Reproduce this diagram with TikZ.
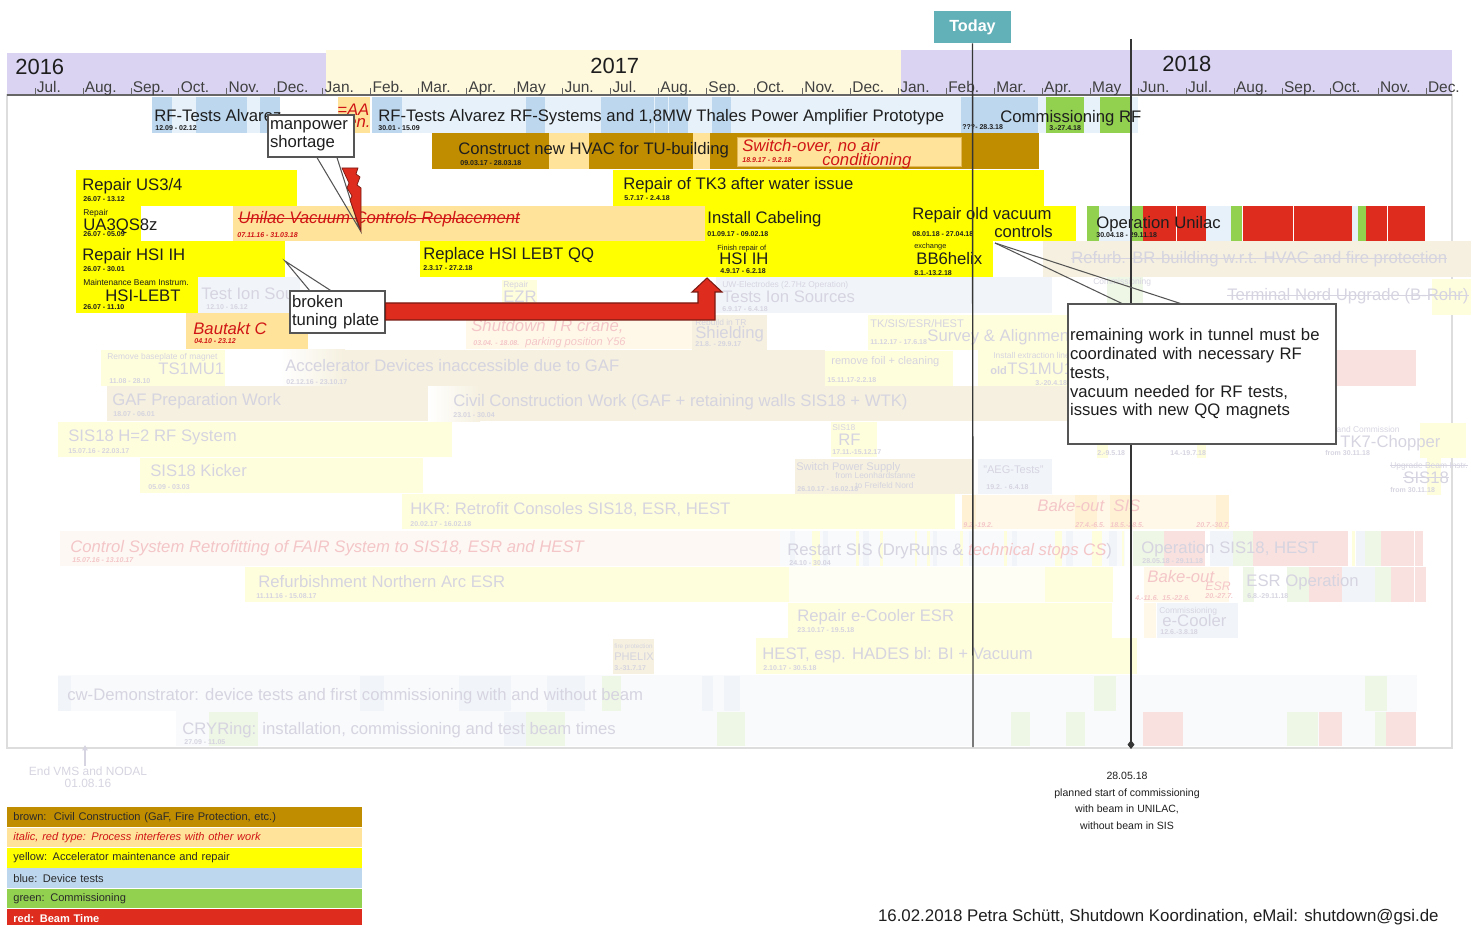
\documentclass[tikz,border=0pt]{standalone}
\usepackage{fontspec}
\setmainfont{Liberation Sans}
\usetikzlibrary{positioning, calc, arrows.meta}
\newsavebox{\strkbox}
\newcommand{\strk}[1]{\sbox{\strkbox}{#1}\rlap{\usebox{\strkbox}}\rule[0.3em]{\wd\strkbox}{0.07em}}
\definecolor{ink}{HTML}{1E1E1E}
\definecolor{lavY}{HTML}{DAD4F2}
\definecolor{creamY}{HTML}{FEF9DD}
\definecolor{brownCC}{HTML}{C18D00}
\definecolor{peachIR}{HTML}{FFE39B}
\definecolor{pchEdge}{HTML}{E2B85A}
\definecolor{yellowAM}{HTML}{FFFF00}
\definecolor{blueDT}{HTML}{BDD7EE}
\definecolor{blueLT}{HTML}{E6F1FA}
\definecolor{greenCO}{HTML}{92D050}
\definecolor{redBT}{HTML}{DE2C1E}
\definecolor{redTxt}{HTML}{D01515}
\definecolor{tealToday}{HTML}{62B0B8}
\definecolor{boxEdge}{HTML}{555555}
\definecolor{arrowEdge}{HTML}{7A1A12}
\definecolor{frameGrey}{HTML}{DDDDDD}
\definecolor{axisGrey}{HTML}{666666}
\definecolor{legInk}{HTML}{2A2A2A}
% faded colours
\definecolor{fTxt}{HTML}{D6D4E0}
\definecolor{fRedTxt}{HTML}{F4C6C8}
\definecolor{fYel}{HTML}{FFFEDC}
\definecolor{fBrn}{HTML}{F5F0DF}
\definecolor{fBlu}{HTML}{F1F5FA}
\definecolor{fBlu2}{HTML}{F8FAFC}
\definecolor{fRed}{HTML}{F9E1DF}
\definecolor{fGrn}{HTML}{EEF6E6}
\definecolor{fPch}{HTML}{FFF8E8}
\definecolor{fPchD}{HTML}{FFF2D4}
\definecolor{fPink}{HTML}{FDF8F4}
\definecolor{fCream}{HTML}{FFFEF4}

\begin{document}
\begin{tikzpicture}[x=0.02cm, y=-0.02cm,
    lbl/.style={anchor=base west, inner sep=0pt, text=ink, font=\fontsize{9.5}{11}\selectfont},
    ilbl/.style={lbl, text=redTxt, font=\fontsize{9.5}{11}\selectfont\itshape},
    dat/.style={anchor=base west, inner sep=0pt, text=ink, font=\fontsize{4}{5}\selectfont\bfseries},
    idat/.style={dat, text=redTxt, font=\fontsize{4}{5}\selectfont\bfseries\itshape},
    tinyl/.style={anchor=base west, inner sep=0pt, text=ink, font=\fontsize{4.8}{5.5}\selectfont},
    midl/.style={anchor=base west, inner sep=0pt, text=ink, font=\fontsize{6.3}{7.5}\selectfont},
    flbl/.style={lbl, text=fTxt},
    fdat/.style={dat, text=fTxt},
    ftiny/.style={tinyl, text=fTxt},
    fmid/.style={midl, text=fTxt},
    filbl/.style={ilbl, text=fRedTxt},
    fidat/.style={idat, text=fRedTxt},
    yr/.style={anchor=base west, inner sep=0pt, text=ink, font=\fontsize{12.5}{14}\selectfont},
    mon/.style={anchor=base west, inner sep=0pt, text=ink!85, font=\fontsize{8.8}{10}\selectfont},
    tick/.style={draw=axisGrey, line width=0.5pt},
    yel/.style={fill=yellowAM}, brn/.style={fill=brownCC}, pch/.style={fill=peachIR},
    bluD/.style={fill=blueDT}, bluL/.style={fill=blueLT}, grn/.style={fill=greenCO},
    redb/.style={fill=redBT},
    fyel/.style={fill=fYel}, fbrn/.style={fill=fBrn}, fblu/.style={fill=fBlu},
    fblu2/.style={fill=fBlu2}, fred/.style={fill=fRed}, fgrn/.style={fill=fGrn},
    fpch/.style={fill=fPch}, fpchd/.style={fill=fPchD},
    today/.style={fill=tealToday, text=white, font=\fontsize{9.2}{10}\selectfont\bfseries,
        minimum width=1.54cm, minimum height=0.64cm, inner sep=0pt},
    vline/.style={draw=ink!90, line width=0.8pt},
    callbox/.style={draw=boxEdge, fill=white, line width=0.7pt, inner xsep=0.04cm, inner ysep=0pt,
        align=left, text=ink, font=\fontsize{9.5}{10.2}\selectfont},
    tail/.style={draw=boxEdge, line width=0.6pt},
    bigArrow/.style={fill=redBT, draw=arrowEdge, line width=0.6pt},
    legend/.style={minimum height=0.393cm, inner xsep=0.12cm, inner ysep=0pt, text width=6.86cm,
        align=left, text=legInk, font=\fontsize{6.3}{7}\selectfont}
  ]
  \useasboundingbox (0,0) rectangle (1479,925);

  % year bands and time axis
  \fill[fill=lavY] (7,53) rectangle (326,95);
  \fill[fill=creamY] (326,50) rectangle (901,95);
  \fill[fill=lavY] (901,50) rectangle (1452,95);
  \node[yr] (y2016) at (15,75) {2016};
  \node[yr] (y2017) at (590,74) {2017};
  \node[yr] (y2018) at (1162,72) {2018};
  \draw[draw=frameGrey, line width=0.6pt] (7,95) rectangle (1452,748);
  \draw[draw=axisGrey, line width=1.1pt] (7,95) -- (1452,95);
  \foreach \m [count=\i from 0] in {Jul.,Aug.,Sep.,Oct.,Nov.,Dec.,Jan.,Feb.,Mar.,Apr.,May,Jun.,Jul.,Aug.,Sep.,Oct.,Nov.,Dec.,Jan.,Feb.,Mar.,Apr.,May,Jun.,Jul.,Aug.,Sep.,Oct.,Nov.,Dec.}{
    \draw[tick] (35+47.97*\i,88) -- (35+47.97*\i,95);
    \node[mon] (mon\i) at (36.5+47.97*\i,92.5) {\m};
  }

  % row 1: RF tests
  \fill[bluL] (152,97) rectangle (280,133);
  \foreach \xa/\xb in {152/172,196/247,260/280} {\fill[bluD] (\xa,97) rectangle (\xb,133);}
  \node[lbl] (tRFa) at (154,122) {RF-Tests Alvarez};
  \node[dat] (dRFa) at (155,131) {12.09 - 02.12};
  \fill[pch] (338,97) rectangle (370,133);
  \node[ilbl] (tAA) at (337,116) {=AA};
  \node[ilbl] (tAAb) at (347,128) {en.};
  \fill[bluL] (372,97) rectangle (1138,133);
  \foreach \xa/\xb in {372/402,526/545,601/654,655/668,669/688,712/731,961/1038} {\fill[bluD] (\xa,97) rectangle (\xb,133);}
  \foreach \xa/\xb in {1046/1084,1100/1132} {\fill[grn] (\xa,97) rectangle (\xb,133);}
  \node[lbl] (tRFb) at (378,122) {RF-Tests Alvarez RF-Systems and 1,8MW Thales Power Amplifier Prototype};
  \node[dat] (dRFb) at (378,131) {30.01 - 15.09};
  \node[dat] (dRFc) at (962,130) {???- 28.3.18};
  \node[lbl] (tComRF) at (1000,123) {Commissioning RF};
  \node[dat] (dComRF) at (1049,131) {3.-27.4.18};

  % row 2: HVAC
  \fill[brn] (432,133) rectangle (1039,169);
  \foreach \xa/\xb in {549/589,693/710} {\fill[pch] (\xa,133) rectangle (\xb,169);}
  \filldraw[pch, draw=pchEdge, line width=0.5pt] (737,137) rectangle (961,166);
  \node[lbl] (tHVAC) at (458,155) {Construct new HVAC for TU-building};
  \node[dat] (dHVAC) at (460,166) {09.03.17 - 28.03.18};
  \node[ilbl] (tSwitch) at (742,152) {Switch-over, no air};
  \node[ilbl] (tSwitchb) at (822,166) {conditioning};
  \node[idat] (dSwitch) at (742,163) {18.9.17 - 9.2.18};

  % row 3
  \fill[yel] (76,170) rectangle (297,206);
  \node[lbl] (tUS) at (82,191) {Repair US3/4};
  \node[dat] (dUS) at (83,202) {26.07 - 13.12};
  \fill[yel] (613,170) rectangle (1044,206);
  \node[lbl] (tTK3) at (623,190) {Repair of TK3 after water issue};
  \node[dat] (dTK3) at (624,201) {5.7.17 - 2.4.18};

  % row 4
  \fill[yel] (76,206) rectangle (141,241);
  \node[tinyl] (sUA) at (83,216) {Repair};
  \node[lbl] (tUA) at (83,231) {UA3QS8z};
  \node[dat] (dUA) at (83,237) {26.07 - 05.09};
  \fill[pch] (233,206) rectangle (705,241);
  \node[ilbl] (tVac) at (238,224) {\strk{Unilac Vacuum Controls Replacement}};
  \node[idat] (dVac) at (237,238) {07.11.16 - 31.03.18};
  \fill[yel] (705,206) rectangle (1076,241);
  \node[lbl] (tCab) at (707,224) {Install Cabeling};
  \node[dat] (dCab) at (707,237) {01.09.17 - 09.02.18};
  \node[lbl] (tOldVac) at (912,220) {Repair old vacuum};
  \node[lbl] (tOldVacb) at (994,238) {controls};
  \node[dat] (dOldVac) at (912,237) {08.01.18 - 27.04.18};
  \foreach \xa/\xb/\col in {1087/1099/grn,1099/1131/bluL,1131/1143/grn,1143/1176/redb,1177/1206/redb,
      1206/1231/bluL,1231/1242/grn,1243/1293/redb,1294/1352/redb,1352/1358/bluL,1358/1366/grn,
      1366/1387/redb,1388/1425/redb} {\fill[\col] (\xa,206) rectangle (\xb,242);}
  \node[lbl] (tOpU) at (1096,229) {Operation Unilac};
  \node[dat] (dOpU) at (1096,238) {30.04.18 - 29.11.18};

  % row 5
  \fill[yel] (76,241) rectangle (285,277);
  \node[lbl] (tHSI) at (82,261) {Repair HSI IH};
  \node[dat] (dHSI) at (83,272) {26.07 - 30.01};
  \fill[yel] (420,241) rectangle (993,277);
  \node[lbl] (tQQ) at (423,260) {Replace HSI LEBT QQ};
  \node[dat] (dQQ) at (423,271) {2.3.17 - 27.2.18};
  \node[tinyl, font=\fontsize{4.2}{5}\selectfont] (sFin) at (717,251) {Finish repair of};
  \node[lbl] (tFin) at (719,265) {HSI IH};
  \node[dat] (dFin) at (720,274) {4.9.17 - 6.2.18};
  \node[tinyl, font=\fontsize{4.2}{5}\selectfont] (sExc) at (914,249) {exchange};
  \node[lbl] (tBB6) at (916,265) {BB6helix};
  \node[dat] (dBB6) at (914,276) {8.1.-13.2.18};
  \fill[fbrn] (1043,241) rectangle (1471,277);
  \node[flbl] (tRefBR) at (1071,264) {\strk{Refurb. BR-building w.r.t. HVAC and fire protection}};

  % row 6
  \fill[yel] (76,277) rectangle (198,313);
  \node[tinyl] (sBI) at (83,286) {Maintenance Beam Instrum.};
  \node[lbl] (tBI) at (105,302) {HSI-LEBT};
  \node[dat] (dBI) at (83,310) {26.07 - 11.10};
  \fill[fblu] (198,277) rectangle (300,313);
  \node[flbl] (tTIS) at (201,300) {Test Ion Sources};
  \node[fdat] (dTIS) at (206,310) {12.10 - 16.12};
  \fill[fyel] (502,280) rectangle (537,313);
  \node[ftiny] (sEZR) at (503,288) {Repair};
  \node[flbl] (tEZR) at (503,303) {EZR};
  \fill[fblu] (716,277) rectangle (1052,313);
  \node[ftiny] (sUW) at (722,288) {UW-Electrodes (2.7Hz Operation)};
  \node[flbl] (tTIS2) at (722,303) {Tests Ion Sources};
  \node[fdat] (dTIS2) at (722,312) {6.9.17 - 6.4.18};
  \fill[fgrn] (1107,277) rectangle (1143,313);
  \node[ftiny] (sComIS) at (1093,285) {Commissioning};
  \fill[fyel] (1432,279) rectangle (1471,315);
  \node[flbl] (tTermN) at (1227,301) {\strk{Terminal Nord Upgrade (B-Rohr)}};

  % row 7
  \fill[pch] (186,313) rectangle (308,349);
  \node[ilbl] (tBau) at (193,335) {Bautakt C};
  \node[idat] (dBau) at (194,344) {04.10 - 23.12};
  \fill[fpch] (466,313) rectangle (692,349);
  \node[filbl] (tCrane) at (471,332) {Shutdown TR crane,};
  \node[fidat] (dCrane) at (473,346) {03.04. - 18.08.};
  \node[filbl, font=\fontsize{6.3}{7}\selectfont\itshape] (tCraneb) at (525,346) {parking position Y56};
  \fill[fbrn] (692,315) rectangle (767,350);
  \node[ftiny] (sShield) at (695,326) {Rebuild in TR};
  \node[flbl] (tShield) at (695,339) {Shielding};
  \node[fdat] (dShield) at (695,347) {21.8. - 29.9.17};
  \fill[fyel] (868,315) rectangle (1070,350);
  \node[fmid] (sSurv) at (870,328) {TK/SIS/ESR/HEST};
  \node[flbl] (tSurv) at (927,342) {Survey \& Alignment};
  \node[fdat] (dSurv) at (870,345) {11.12.17 - 17.6.18};

  % row 8
  \fill[fyel] (101,350) rectangle (225,386);
  \node[ftiny] (sTS) at (107,359) {Remove baseplate of magnet};
  \node[flbl] (tTS) at (158,375) {TS1MU1};
  \node[fdat] (dTS) at (109,383) {11.08 - 28.10};
  \shade[left color=white, right color=fBrn] (280,350) rectangle (345,386);
  \fill[fbrn] (345,350) rectangle (825,386);
  \node[flbl] (tInacc) at (285,372) {Accelerator Devices inaccessible due to GAF};
  \node[fdat] (dInacc) at (286,384) {02.12.16 - 23.10.17};
  \fill[fyel] (825,351) rectangle (953,386);
  \node[fmid] (tFoil) at (831,365) {remove foil + cleaning};
  \node[fdat] (dFoil) at (827,382) {15.11.17-2.2.18};
  \fill[fyel] (978,350) rectangle (1068,386);
  \node[ftiny] (sExt) at (993,358) {Install extraction line};
  \node[fmid, font=\fontsize{6.3}{7}\selectfont\bfseries] (sOld) at (990,375) {old};
  \node[flbl] (tOldTS) at (1007,375) {TS1MU1};
  \node[fdat] (dOldTS) at (1035,385) {3.-20.4.18};
  \fill[fred] (1332,350) rectangle (1416,386);

  % row 9
  \fill[fbrn] (107,386) rectangle (428,421);
  \node[flbl] (tGAF) at (112,405) {GAF Preparation Work};
  \node[fdat] (dGAF) at (113,417) {18.07 - 06.01};
  \shade[left color=white, right color=fBrn] (428,386) rectangle (480,421);
  \fill[fbrn] (480,386) rectangle (1068,421);
  \node[flbl] (tCivil) at (453,406) {Civil Construction Work (GAF + retaining walls SIS18 + WTK)};
  \node[fdat] (dCivil) at (453,418) {23.01 - 30.04};

  % row 10
  \fill[fyel] (58,422) rectangle (452,457);
  \node[flbl] (tH2) at (68,441) {SIS18 H=2 RF System};
  \node[fdat] (dH2) at (68,453) {15.07.16 - 22.03.17};
  \fill[fyel] (831,422) rectangle (877,457);
  \node[ftiny] (sRF) at (832,430) {SIS18};
  \node[flbl] (tRF) at (838,445) {RF};
  \node[fdat] (dRF) at (832,454) {17.11.-15.12.17};
  \fill[fyel] (1097,444) rectangle (1108,458);
  \fill[fyel] (1197,444) rectangle (1206,458);
  \node[fdat] (dMay) at (1097,455) {2.-9.5.18};
  \node[fdat] (dJul) at (1170,455) {14.-19.7.18};
  \fill[fyel] (1420,423) rectangle (1466,458);
  \node[ftiny] (sTK7) at (1312,432) {Install and Commission};
  \node[flbl] (tTK7) at (1340,447) {TK7-Chopper};
  \node[fdat] (dTK7) at (1325,455) {from 30.11.18};

  % row 11
  \fill[fyel] (140,458) rectangle (423,493);
  \node[flbl] (tKick) at (150,476) {SIS18 Kicker};
  \node[fdat] (dKick) at (148,489) {05.09 - 03.03};
  \fill[fbrn] (795,459) rectangle (973,494);
  \node[fmid] (tSwPS) at (796,470) {Switch Power Supply};
  \node[ftiny] (sSwPS) at (835,478) {from Leonhardstanne};
  \node[ftiny] (sSwPSb) at (855,488) {to Freifeld Nord};
  \node[fdat] (dSwPS) at (797,491) {26.10.17 - 16.02.18};
  \fill[fblu] (978,459) rectangle (1052,494);
  \node[fmid] (tAEG) at (983,473) {"AEG-Tests"};
  \node[fdat] (dAEG) at (986,489) {19.2. - 6.4.18};
  \fill[fyel] (1427,458) rectangle (1441,495);
  \node[ftiny] (sUpg) at (1390,468) {\strk{Upgrade Beam Instr.}};
  \node[flbl] (tUpg) at (1403,483) {\strk{SIS18}};
  \node[fdat] (dUpg) at (1390,492) {from 30.11.18};

  % row 12
  \fill[fyel] (402,494) rectangle (955,529);
  \node[flbl] (tHKR) at (410,514) {HKR: Retrofit Consoles SIS18, ESR, HEST};
  \node[fdat] (dHKR) at (410,526) {20.02.17 - 16.02.18};
  \fill[fpch] (962,495) rectangle (1229,529);
  \foreach \xa/\xb in {962/976,1075/1097,1110/1132,1216/1229} {\fill[fpchd] (\xa,495) rectangle (\xb,529);}
  \node[filbl] (tBakeS) at (1037,511) {Bake-out\ \ SIS};
  \node[fidat] (dBS1) at (963,527) {9.2.-19.2.};
  \node[fidat] (dBS2) at (1075,527) {27.4.-6.5.};
  \node[fidat] (dBS3) at (1110,527) {18.5.-28.5.};
  \node[fidat] (dBS4) at (1196,527) {20.7.-30.7.};

  % row 13
  \fill[fill=fPink] (60,531) rectangle (780,566);
  \node[filbl] (tCtrl) at (70,552) {Control System Retrofitting of FAIR System to SIS18, ESR and HEST};
  \node[fidat] (dCtrl) at (72,562) {15.07.16 - 13.10.17};
  \fill[fblu2] (780,531) rectangle (1125,566);
  \foreach \xa/\xb/\col in {790/795/fblu,812/820/fyel,823/828/fblu,856/859/fyel,863/869/fblu,880/883/fyel,
      915/917/fyel,927/930/fyel,933/937/fblu,960/963/fyel,969/973/fblu,1004/1007/fyel,1012/1017/fblu,
      1055/1062/fyel,1066/1073/fblu,1092/1102/fyel,1109/1117/fblu,1122/1124/fyel} {\fill[\col] (\xa,531) rectangle (\xb,566);}
  \node[flbl] (tRestart) at (787,555) {Restart SIS (DryRuns \& \textcolor{fRedTxt}{\itshape technical stops CS})};
  \node[fdat] (dRestart) at (789,565) {24.10 - 30.04};
  \foreach \xa/\xb/\col in {1133/1164/fgrn,1164/1205/fred,1210/1233/fblu,1233/1253/fgrn,1253/1348/fred,
      1352/1355/fyel,1356/1365/fblu,1365/1381/fgrn,1381/1414/fred,1415/1423/fred} {\fill[\col] (\xa,531) rectangle (\xb,566);}
  \node[flbl] (tOpSIS) at (1141,553) {Operation SIS18, HEST};
  \node[fdat] (dOpSIS) at (1142,563) {28.05.18 - 29.11.18};

  % row 14
  \fill[fyel] (245,567) rectangle (789,602);
  \fill[fill=fCream] (789,567) rectangle (1045,602);
  \fill[fyel] (1045,567) rectangle (1113,602);
  \node[flbl] (tNArc) at (258,587) {Refurbishment Northern Arc ESR};
  \node[fdat] (dNArc) at (256,598) {11.11.16 - 15.08.17};
  \fill[fpch] (1144,567) rectangle (1229,602);
  \node[filbl] (tBakeE) at (1147,582) {Bake-out};
  \node[filbl, font=\fontsize{7}{8}\selectfont\itshape] (tBakeEb) at (1205,590) {ESR};
  \node[fidat] (dBE1) at (1135,600) {4.-11.6.};
  \node[fidat] (dBE2) at (1162,600) {15.-22.6.};
  \node[fidat] (dBE3) at (1205,598) {20.-27.7.};
  \foreach \xa/\xb/\col in {1243/1254/fgrn,1287/1309/fgrn,1309/1342/fred,1342/1375/fblu,1375/1391/fgrn,
      1391/1414/fred,1415/1426/fred} {\fill[\col] (\xa,567) rectangle (\xb,602);}
  \node[flbl] (tESROp) at (1246,586) {ESR Operation};
  \node[fdat] (dESROp) at (1247,598) {6.8.-29.11.18};

  % row 15
  \fill[fyel] (788,603) rectangle (1112,638);
  \node[flbl] (tEcool) at (797,621) {Repair e-Cooler ESR};
  \node[fdat] (dEcool) at (797,632) {23.10.17 - 19.5.18};
  \fill[fpch] (1144,603) rectangle (1156,638);
  \fill[fblu] (1157,603) rectangle (1238,638);
  \node[ftiny] (sEcom) at (1159,613) {Commissioning};
  \node[flbl] (tEcom) at (1162,626) {e-Cooler};
  \node[fdat] (dEcom) at (1160,634) {12.6.-3.8.18};

  % row 16
  \fill[fbrn] (613,639) rectangle (654,674);
  \node[ftiny, font=\fontsize{3.6}{4}\selectfont] (sPhel) at (614,648) {fire protection};
  \node[fmid] (tPhel) at (614,660) {PHELIX};
  \node[fdat] (dPhel) at (614,670) {3.-31.7.17};
  \fill[fyel] (756,638) rectangle (1137,674);
  \node[flbl] (tHEST) at (762,659) {HEST, esp. HADES bl: BI + Vacuum};
  \node[fdat] (dHEST) at (763,670) {2.10.17 - 30.5.18};

  % row 17 and 18
  \fill[fblu2] (58,675) rectangle (1417,711);
  \foreach \xa/\xb/\col in {58/71/fblu,360/384/fblu,459/511/fblu,547/585/fblu,702/713/fblu,724/740/fblu,
      602/621/fgrn,1094/1116/fgrn,1365/1387/fgrn} {\fill[\col] (\xa,676) rectangle (\xb,711);}
  \node[flbl] (tCW) at (67,700) {cw-Demonstrator: device tests and first commissioning with and without beam};
  \fill[fblu2] (176,711) rectangle (1416,746);
  \foreach \xa/\xb/\col in {504/526/fblu,209/258/fgrn,526/565/fgrn,717/745/fgrn,1011/1030/fgrn,1066/1085/fgrn,
      1287/1318/fgrn,1375/1386/fgrn,1143/1183/fred,1319/1342/fred,1386/1416/fred} {\fill[\col] (\xa,712) rectangle (\xb,746);}
  \node[flbl] (tCRY) at (182,734) {CRYRing: installation, commissioning and test beam times};
  \node[fdat] (dCRY) at (184,744) {27.09 - 11.05};

  % today and planned start
  \node[today] (today) at (972.5,27) {Today};
  \coordinate (todayEnd) at (973,747);
  \draw[vline] (today.south) -- (todayEnd);
  \coordinate (planTop) at (1131,39);
  \coordinate (planEnd) at (1131,749);
  \draw[vline, -{Diamond[length=5pt,width=4pt]}] (planTop) -- (planEnd);
  \node[inner sep=0pt, align=center, text=ink, font=\fontsize{6}{9.4}\selectfont] (planNote) at (1127,801)
    {28.05.18\\planned start of commissioning\\with beam in UNILAC,\\without beam in SIS};

  % end of VMS marker
  \coordinate (vmsTop) at (85,745);
  \node[inner sep=0pt, align=center, text=fTxt, font=\fontsize{6.8}{6.9}\selectfont] (vms) at (88,777)
    {End VMS and NODAL\\01.08.16};
  \draw[draw=fTxt, line width=0.6pt, -{Triangle[length=3pt,width=3pt]}] (vms.north -| vmsTop) -- (vmsTop);

  % callouts
  \node[callbox, text width=1.64cm, minimum height=0.84cm] (cMan) at (311,136) {manpower\\shortage};
  \coordinate (manTip) at (360,230);
  \draw[tail] ($(cMan.south)+(6,0)$) -- (manTip) -- ($(cMan.south)+(26,0)$);
  \filldraw[fill=redBT, draw=arrowEdge, line width=0.4pt] (342,168) -- (358,168) -- (356,174) -- (360,177)
    -- (357,185) -- (361,188) -- (361,231) -- (350,200) -- (352,196) -- (347,188) -- (349,183) -- cycle;

  \node[callbox, text width=1.82cm, minimum height=0.84cm] (cBroken) at (337.5,312) {broken\\tuning plate};
  \coordinate (brokenTip) at (285,261);
  \draw[tail] ($(cBroken.north)+(-28,0)$) -- (brokenTip) -- ($(cBroken.north)+(-7,0)$);
  \coordinate (arrowTip) at (707,278);
  \draw[bigArrow] ($(cBroken.east)+(0,-9)$) -- (698,303) -- (698,292) -- (692,292) -- (arrowTip)
    -- (722,292) -- (715,292) -- (715,320) -- ($(cBroken.east)+(0,8)$) -- cycle;

  \coordinate (remainTip) at (995,243);
  \draw[tail] (remainTip) -- (1123,304);
  \draw[tail] (remainTip) -- (1182,304);
  \node[callbox, text width=5.28cm, minimum height=2.8cm, font=\fontsize{9.5}{10.7}\selectfont] (cRemain) at (1202,374)
    {remaining work in tunnel must be\\coordinated with necessary RF\\tests,\\vacuum needed for RF tests,\\issues with new QQ magnets};

  % legend
  \node[legend, fill=brownCC, anchor=north west] (lgBrown) at (7,807) {brown:\ \ Civil Construction (GaF, Fire Protection, etc.)};
  \node[legend, fill=peachIR, below=0pt of lgBrown, text=redTxt, font=\fontsize{6.3}{7}\selectfont\itshape] (lgItal) {italic, red type: Process interferes with other work};
  \node[legend, fill=yellowAM, below=0pt of lgItal] (lgYel) {yellow: Accelerator maintenance and repair};
  \node[legend, fill=blueDT, below=0pt of lgYel] (lgBlue) {blue: Device tests};
  \node[legend, fill=greenCO, below=0pt of lgBlue] (lgGreen) {green: Commissioning};
  \node[legend, fill=redBT, below=0pt of lgGreen, text=white, font=\fontsize{6.3}{7}\selectfont\bfseries] (lgRed) {red: Beam Time};

  % footer
  \node[anchor=base east, inner sep=0pt, text=ink, font=\fontsize{9.6}{11}\selectfont] (footer) at (1439,921)
    {16.02.2018 Petra Schütt, Shutdown Koordination, eMail: shutdown@gsi.de};
\end{tikzpicture}
\end{document}
